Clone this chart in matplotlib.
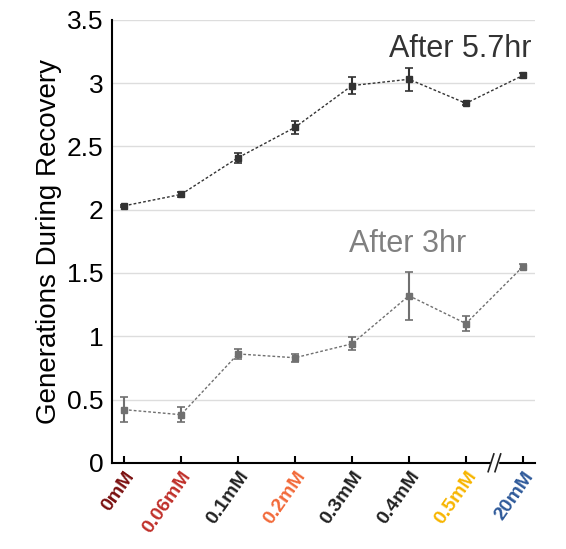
import matplotlib
matplotlib.use("Agg")
import matplotlib.pyplot as plt

plt.rcParams['font.family'] = ['Liberation Sans', 'DejaVu Sans']

labels = ["0mM", "0.06mM", "0.1mM", "0.2mM", "0.3mM", "0.4mM", "0.5mM", "20mM"]
label_colors = ["#7a1010", "#c0302a", "#222222", "#f26a3a", "#222222", "#222222", "#f7b500", "#2f5a9a"]
gen_57 = [2.03, 2.12, 2.41, 2.65, 2.98, 3.03, 2.84, 3.06]
err_57 = [0.01, 0.02, 0.04, 0.05, 0.07, 0.09, 0.01, 0.02]
gen_3 = [0.42, 0.38, 0.86, 0.83, 0.94, 1.32, 1.10, 1.55]
err_3 = [0.10, 0.06, 0.04, 0.03, 0.05, 0.19, 0.06, 0.02]

fig = plt.figure(figsize=(5.66, 5.49), dpi=100)
ax = fig.add_axes([0.198, 0.157, 0.747, 0.807])
x = list(range(len(labels)))
ax.errorbar(x, gen_57, yerr=err_57, color="#333333", ls=(0, (2, 1.5)), lw=1,
            marker="s", ms=5, capsize=3, elinewidth=1.5, capthick=1.2)
ax.errorbar(x, gen_3, yerr=err_3, color="#707070", ls=(0, (2, 1.5)), lw=1,
            marker="s", ms=5, capsize=3, elinewidth=1.5, capthick=1.2)
ax.set_xlim(-0.21, 7.21)
ax.set_ylim(0, 3.5)
ax.set_yticks([0, 0.5, 1, 1.5, 2, 2.5, 3, 3.5])
ax.set_yticklabels(["0", "0.5", "1", "1.5", "2", "2.5", "3", "3.5"], fontsize=19)
ax.yaxis.grid(True, color="#dddddd", lw=1)
ax.set_axisbelow(True)
ax.set_xticks(x)
ax.set_xticklabels(labels, rotation=55, ha="right", rotation_mode="anchor",
                   fontsize=14, fontweight="bold")
for t, c in zip(ax.get_xticklabels(), label_colors):
    t.set_color(c)
ax.tick_params(axis="x", direction="in", length=5, width=1.5, pad=4)
ax.tick_params(axis="y", length=0, pad=6)
for s in ["top", "right"]:
    ax.spines[s].set_visible(False)
for s in ["left", "bottom"]:
    ax.spines[s].set_linewidth(1.5)
ax.set_ylabel("Generations During Recovery", fontsize=20)
# axis break marks
ax.fill_between([6.44, 6.56], -0.03, 0.03, color="white", clip_on=False, zorder=5)
for dx in (-0.06, 0.06):
    ax.plot([6.45 + dx, 6.55 + dx], [-0.07, 0.07], color="#222222", lw=1.2, clip_on=False, zorder=6)
ax.text(7.15, 3.27, "After 5.7hr", fontsize=22, color="#333333", ha="right", va="center")
ax.text(6.0, 1.73, "After 3hr", fontsize=22, color="#808080", ha="right", va="center")
fig.savefig("out.png", dpi=100)
